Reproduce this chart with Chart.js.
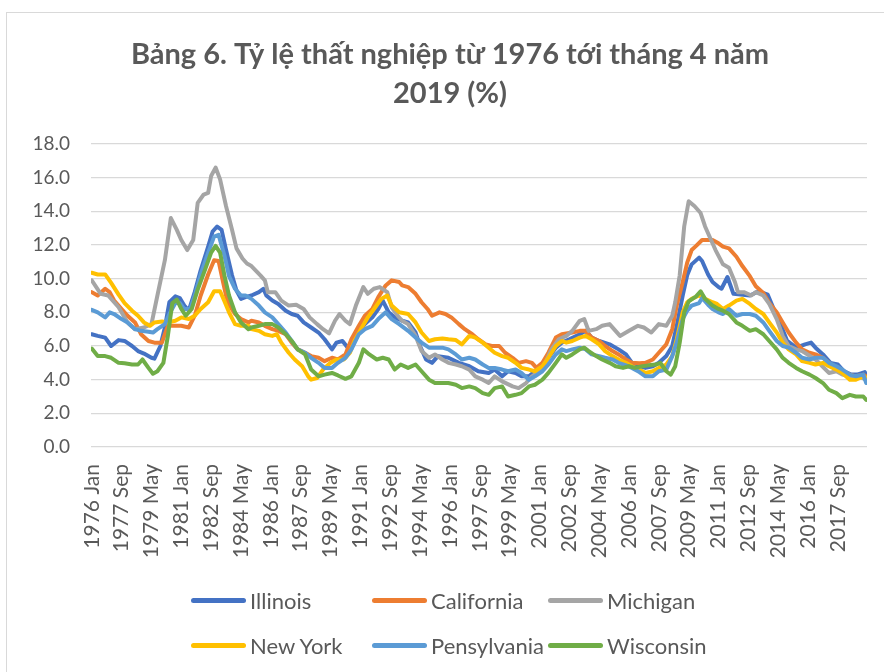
<!DOCTYPE html>
<html lang="vi">
<head>
<meta charset="utf-8">
<title>Bảng 6. Tỷ lệ thất nghiệp</title>
<script src="https://cdn.jsdelivr.net/npm/chart.js@4/dist/chart.umd.min.js"></script>
<style>
  html, body {
    margin: 0;
    padding: 0;
    background: #ffffff;
    overflow: hidden;
  }

  #chartFrame {
    position: absolute;
    left: 6px;
    top: 12px;
    width: 900px;
    height: 700px;
    border: 1px solid #d9d9d9;
  }

  #chartWrap {
    position: absolute;
    left: 0;
    top: 0;
    width: 884px;
    height: 672px;
  }

  #unemploymentLegend {
    position: absolute;
    left: 191px;
    top: 578px;
    display: grid;
    grid-template-columns: 181px 176px 180px;
    grid-auto-rows: 45px;
    font-family: "Lato", "Open Sans", sans-serif;
    font-size: 22px;
    color: #595959;
  }

  .legend-item {
    display: flex;
    align-items: center;
    white-space: nowrap;
  }

  .legend-swatch {
    width: 55px;
    height: 5px;
    border-radius: 3px;
    margin-right: 4px;
  }
</style>
</head>
<body>
<div id="chartFrame"></div>
<div id="chartWrap">
  <canvas id="unemploymentChart" width="884" height="672"></canvas>
</div>
<div id="unemploymentLegend"></div>

<script>
// Month index 0 = 1976 Jan, 519 = 2019 Apr. Values in %.
const tickMonths = [0, 20, 40, 60, 80, 100, 120, 140, 160, 180, 200, 220, 240,
  260, 280, 300, 320, 340, 360, 380, 400, 420, 440, 460, 480, 500];

const tickLabels = ["1976 Jan", "1977 Sep", "1979 May", "1981 Jan", "1982 Sep",
  "1984 May", "1986 Jan", "1987 Sep", "1989 May", "1991 Jan", "1992 Sep",
  "1994 May", "1996 Jan", "1997 Sep", "1999 May", "2001 Jan", "2002 Sep",
  "2004 May", "2006 Jan", "2007 Sep", "2009 May", "2011 Jan", "2012 Sep",
  "2014 May", "2016 Jan", "2017 Sep"];

const stateNames = ["Illinois", "California", "Michigan", "New York", "Pensylvania", "Wisconsin"];

const illinois = [
  [0, 6.7], [4, 6.6], [9, 6.5], [13, 6.0], [18, 6.35], [22, 6.3], [27, 6.0], [31, 5.7],
  [35, 5.55], [40, 5.3], [42, 5.25], [46, 6.0], [49, 7.1], [52, 8.6], [56, 8.95], [59, 8.85],
  [62, 8.4], [65, 8.1], [69, 9.2], [73, 10.5], [78, 11.9], [81, 12.8], [84, 13.1], [87, 12.9],
  [90, 11.7], [94, 10.2], [97, 9.3], [100, 8.8], [103, 8.9], [107, 9.0], [112, 9.2], [115, 9.4],
  [117, 9.0], [121, 8.7], [125, 8.5], [130, 8.1], [134, 7.9], [138, 7.8], [142, 7.4], [147, 7.1],
  [152, 6.8], [156, 6.4], [161, 5.8], [164, 6.2], [168, 6.3], [172, 5.85], [175, 6.2], [179, 6.9],
  [183, 7.3], [188, 7.7], [192, 8.2], [195, 8.7], [199, 8.0], [203, 7.7], [208, 7.5], [212, 7.4],
  [217, 6.8], [220, 6.0], [224, 5.2], [228, 5.0], [232, 5.4], [239, 5.3], [246, 5.0], [253, 4.8],
  [259, 4.5], [266, 4.4], [270, 4.6], [275, 4.2], [279, 4.5], [284, 4.4], [288, 4.2], [293, 4.2],
  [297, 4.5], [302, 4.8], [306, 5.3], [311, 5.9], [315, 6.2], [320, 6.4], [327, 6.7], [331, 6.9],
  [335, 6.5], [340, 6.3], [347, 6.1], [353, 5.8], [358, 5.5], [362, 5.0], [367, 4.8], [371, 4.7],
  [376, 4.8], [380, 5.0], [385, 5.4], [389, 6.0], [392, 7.2], [396, 9.0], [399, 10.2], [402, 10.85],
  [407, 11.25], [409, 11.05], [413, 10.25], [416, 9.8], [420, 9.5], [422, 9.4], [426, 10.1], [430, 9.1],
  [441, 9.0], [447, 9.25], [453, 9.05], [457, 8.2], [462, 7.2], [466, 6.3], [472, 5.9], [478, 6.1],
  [482, 6.2], [485, 5.9], [490, 5.5], [495, 5.0], [500, 4.9], [504, 4.5], [509, 4.3], [513, 4.3],
  [518, 4.45], [519, 4.3]
];

const california = [
  [0, 9.2], [4, 9.0], [9, 9.4], [12, 9.2], [15, 8.7], [20, 8.2], [24, 7.8], [29, 7.4],
  [33, 6.7], [38, 6.3], [42, 6.2], [47, 6.2], [51, 7.2], [56, 7.2], [60, 7.2], [65, 7.1],
  [69, 7.8], [73, 9.0], [78, 10.25], [82, 11.1], [85, 11.05], [88, 9.8], [91, 8.6], [96, 7.9],
  [100, 7.6], [105, 7.4], [107, 7.5], [112, 7.4], [116, 7.2], [121, 7.0], [125, 6.9], [130, 6.7],
  [134, 6.2], [138, 5.8], [143, 5.6], [147, 5.4], [152, 5.3], [156, 5.1], [161, 5.3], [165, 5.2],
  [170, 5.5], [174, 6.4], [179, 7.2], [183, 7.8], [188, 8.2], [192, 8.9], [197, 9.6], [201, 9.9],
  [206, 9.8], [208, 9.6], [212, 9.5], [217, 9.1], [221, 8.6], [225, 8.2], [228, 7.8], [233, 8.0],
  [237, 7.9], [241, 7.7], [246, 7.3], [250, 7.0], [255, 6.7], [259, 6.4], [264, 6.1], [268, 6.0],
  [273, 6.0], [277, 5.6], [282, 5.3], [286, 5.0], [291, 5.1], [295, 5.0], [298, 4.7], [302, 5.0],
  [306, 5.6], [311, 6.5], [315, 6.7], [322, 6.8], [327, 6.9], [331, 6.9], [335, 6.5], [340, 6.3],
  [344, 6.0], [349, 5.7], [353, 5.5], [358, 5.2], [362, 5.0], [367, 4.97], [371, 5.0], [376, 5.2],
  [380, 5.6], [385, 6.1], [389, 7.0], [392, 8.4], [396, 9.8], [399, 10.95], [402, 11.7], [405, 11.95],
  [409, 12.3], [416, 12.3], [420, 12.1], [423, 11.9], [427, 11.8], [432, 11.3], [436, 10.75], [441, 10.15],
  [445, 9.55], [450, 9.15], [454, 8.55], [459, 8.0], [463, 7.4], [467, 6.8], [472, 6.2], [476, 5.8],
  [481, 5.6], [485, 5.5], [490, 5.3], [494, 5.0], [499, 4.7], [503, 4.5], [508, 4.3], [512, 4.2],
  [517, 4.3], [519, 4.2]
];

const michigan = [
  [0, 9.9], [6, 9.1], [11, 9.0], [18, 8.3], [24, 7.4], [29, 7.0], [35, 7.1], [40, 7.3],
  [44, 9.0], [49, 11.1], [53, 13.6], [57, 12.9], [60, 12.3], [64, 11.7], [68, 12.3], [71, 14.5],
  [75, 15.0], [78, 15.1], [80, 16.1], [83, 16.6], [86, 15.9], [90, 14.3], [94, 12.9], [97, 11.8],
  [101, 11.2], [104, 10.9], [107, 10.75], [113, 10.2], [116, 9.9], [118, 9.2], [123, 9.2], [127, 8.7],
  [132, 8.4], [137, 8.45], [142, 8.2], [146, 7.7], [151, 7.3], [155, 7.0], [159, 6.75], [163, 7.5],
  [166, 7.9], [170, 7.5], [173, 7.3], [177, 8.4], [182, 9.5], [185, 9.1], [189, 9.4], [193, 9.5],
  [198, 9.2], [201, 8.3], [205, 7.8], [208, 7.5], [212, 7.3], [217, 6.6], [221, 5.7], [226, 5.3],
  [230, 5.5], [235, 5.2], [239, 5.0], [244, 4.9], [248, 4.8], [253, 4.6], [257, 4.2], [262, 4.0],
  [266, 3.8], [270, 4.2], [275, 3.9], [282, 3.6], [286, 3.5], [291, 3.8], [295, 4.2], [300, 4.5],
  [304, 5.0], [308, 5.8], [313, 6.4], [318, 6.6], [322, 6.9], [327, 7.5], [330, 7.6], [333, 6.9],
  [338, 7.0], [342, 7.2], [347, 7.3], [351, 6.9], [354, 6.6], [360, 6.9], [366, 7.2], [370, 7.1],
  [375, 6.8], [380, 7.3], [385, 7.2], [389, 7.8], [391, 8.6], [394, 10.2], [397, 13.1], [400, 14.6],
  [404, 14.3], [408, 13.9], [411, 13.1], [415, 12.3], [418, 11.7], [423, 10.85], [427, 10.65], [431, 9.8],
  [433, 9.2], [437, 9.2], [442, 9.0], [445, 9.2], [450, 9.0], [454, 8.5], [459, 7.6], [463, 6.6],
  [467, 6.0], [472, 5.8], [476, 5.7], [485, 5.2], [494, 4.4], [499, 4.5], [503, 4.3], [508, 4.2],
  [514, 4.2], [519, 4.0]
];

const newYork = [
  [0, 10.35], [4, 10.25], [9, 10.25], [13, 9.75], [18, 9.05], [22, 8.55], [27, 8.1], [31, 7.8],
  [35, 7.4], [39, 7.2], [42, 7.4], [47, 7.45], [51, 7.4], [56, 7.5], [60, 7.7], [65, 7.6],
  [69, 7.8], [73, 8.2], [78, 8.6], [82, 9.25], [86, 9.25], [89, 8.65], [92, 8.0], [96, 7.3],
  [100, 7.2], [105, 7.2], [107, 7.0], [112, 6.9], [116, 6.7], [121, 6.6], [124, 6.7], [127, 6.2],
  [132, 5.6], [136, 5.2], [141, 4.8], [145, 4.2], [147, 4.0], [151, 4.1], [155, 4.6], [160, 5.0],
  [164, 5.2], [169, 5.2], [173, 5.6], [176, 6.3], [181, 7.1], [185, 7.7], [190, 8.3], [194, 8.8],
  [198, 9.0], [201, 8.4], [206, 8.0], [212, 7.9], [217, 7.4], [221, 6.8], [226, 6.3], [230, 6.4],
  [235, 6.45], [239, 6.4], [244, 6.35], [248, 6.1], [253, 6.6], [257, 6.5], [262, 6.2], [266, 5.9],
  [270, 5.6], [275, 5.4], [279, 5.3], [284, 5.0], [288, 4.7], [293, 4.6], [297, 4.5], [302, 4.8],
  [306, 5.3], [311, 6.0], [315, 6.3], [318, 6.2], [322, 6.3], [327, 6.5], [331, 6.6], [335, 6.4],
  [340, 6.1], [344, 5.7], [349, 5.4], [353, 5.2], [358, 5.0], [362, 4.8], [367, 4.6], [371, 4.4],
  [376, 4.5], [380, 4.7], [385, 4.9], [389, 5.4], [392, 6.4], [396, 8.0], [399, 8.6], [402, 8.8],
  [407, 9.0], [411, 8.8], [416, 8.6], [419, 8.5], [423, 8.2], [427, 8.4], [432, 8.7], [436, 8.8],
  [441, 8.5], [445, 8.2], [450, 7.9], [454, 7.4], [459, 6.8], [463, 6.2], [467, 5.8], [472, 5.5],
  [476, 5.1], [481, 5.0], [485, 4.9], [490, 5.0], [494, 4.8], [499, 4.6], [503, 4.4], [508, 4.0],
  [512, 4.0], [517, 4.2], [519, 4.1]
];

const pensylvania = [
  [0, 8.15], [4, 8.0], [9, 7.7], [12, 8.0], [15, 7.9], [20, 7.6], [24, 7.4], [29, 7.0],
  [33, 6.9], [38, 6.85], [41, 6.8], [44, 7.0], [49, 7.3], [52, 7.9], [56, 8.55], [59, 8.55],
  [62, 8.2], [66, 8.2], [69, 9.0], [73, 10.25], [78, 11.55], [82, 12.5], [85, 12.6], [89, 11.35],
  [92, 10.15], [96, 9.4], [100, 9.0], [103, 9.0], [107, 8.8], [112, 8.4], [116, 8.0], [121, 7.7],
  [125, 7.3], [130, 6.8], [134, 6.3], [138, 5.8], [143, 5.6], [147, 5.3], [152, 5.0], [156, 4.7],
  [161, 4.7], [165, 5.0], [170, 5.3], [174, 5.8], [179, 6.7], [183, 7.0], [188, 7.2], [192, 7.6],
  [197, 8.0], [201, 7.6], [206, 7.3], [212, 6.9], [217, 6.5], [221, 6.2], [226, 5.9], [230, 5.9],
  [235, 5.9], [239, 5.8], [244, 5.5], [248, 5.2], [253, 5.3], [257, 5.2], [262, 4.9], [266, 4.7],
  [270, 4.7], [275, 4.6], [279, 4.5], [284, 4.6], [288, 4.4], [293, 4.0], [297, 4.2], [302, 4.5],
  [306, 4.9], [311, 5.5], [315, 5.8], [318, 5.7], [322, 5.8], [327, 5.9], [331, 5.8], [335, 5.5],
  [340, 5.4], [344, 5.3], [349, 5.2], [353, 5.0], [358, 4.85], [362, 4.7], [367, 4.45], [371, 4.2],
  [376, 4.2], [380, 4.5], [385, 4.6], [389, 5.4], [392, 6.2], [396, 7.6], [399, 8.1], [402, 8.4],
  [407, 8.55], [409, 8.85], [413, 8.45], [416, 8.2], [420, 8.0], [423, 7.9], [427, 8.2], [432, 7.8],
  [436, 7.9], [441, 7.9], [445, 7.8], [450, 7.4], [454, 6.9], [459, 6.3], [463, 6.0], [467, 5.9],
  [472, 5.6], [476, 5.3], [481, 5.2], [485, 5.3], [490, 5.3], [494, 5.0], [499, 4.8], [503, 4.6],
  [508, 4.3], [512, 4.2], [517, 4.3], [519, 3.8]
];

const wisconsin = [
  [0, 5.85], [4, 5.4], [9, 5.4], [13, 5.3], [18, 5.0], [22, 4.97], [27, 4.9], [31, 4.9],
  [34, 5.2], [38, 4.7], [41, 4.35], [44, 4.5], [48, 5.0], [51, 6.6], [54, 8.55], [57, 8.75],
  [60, 8.2], [63, 7.8], [67, 8.2], [71, 9.35], [76, 10.55], [80, 11.55], [83, 11.95], [86, 11.55],
  [89, 10.15], [92, 9.0], [96, 8.0], [100, 7.4], [105, 7.0], [107, 7.1], [112, 7.2], [116, 7.3],
  [121, 7.3], [125, 7.1], [130, 6.7], [134, 6.3], [138, 5.8], [143, 5.5], [147, 4.6], [152, 4.2],
  [156, 4.3], [161, 4.4], [165, 4.25], [170, 4.05], [174, 4.2], [179, 5.0], [182, 5.8], [186, 5.5],
  [191, 5.2], [195, 5.3], [199, 5.2], [203, 4.6], [207, 4.9], [212, 4.7], [217, 4.9], [221, 4.5],
  [226, 4.0], [230, 3.8], [235, 3.8], [239, 3.8], [244, 3.7], [248, 3.5], [253, 3.6], [257, 3.5],
  [262, 3.2], [266, 3.1], [270, 3.5], [275, 3.6], [279, 3.0], [284, 3.1], [288, 3.2], [293, 3.6],
  [297, 3.7], [302, 4.0], [306, 4.4], [311, 5.0], [315, 5.5], [318, 5.3], [322, 5.5], [327, 5.8],
  [330, 5.9], [333, 5.7], [338, 5.4], [342, 5.2], [347, 5.0], [351, 4.8], [356, 4.7], [360, 4.8],
  [364, 4.7], [369, 4.8], [373, 4.85], [378, 4.9], [381, 5.0], [385, 4.5], [388, 4.3], [391, 4.8],
  [394, 6.2], [397, 8.0], [400, 8.65], [405, 8.95], [408, 9.25], [411, 8.8], [416, 8.4], [420, 8.2],
  [423, 8.1], [427, 7.9], [432, 7.4], [436, 7.2], [441, 6.9], [445, 7.0], [450, 6.7], [454, 6.3],
  [459, 5.8], [463, 5.3], [467, 5.0], [472, 4.7], [476, 4.5], [481, 4.3], [485, 4.1], [490, 3.8],
  [494, 3.4], [499, 3.2], [503, 2.9], [508, 3.1], [512, 3.0], [517, 3.0], [519, 2.8]
];

const seriesValues = [illinois, california, michigan, newYork, pensylvania, wisconsin];
const seriesColors = ["#4472C4", "#ED7D31", "#A5A5A5", "#FFC000", "#5B9BD5", "#70AD47"];

const textColor = "#595959";
const gridColor = "#D9D9D9";

function toPoints(pairs) {
  return pairs.map((pair) => {
    return { x: pair[0], y: pair[1] };
  });
}

function buildDatasets() {
  return stateNames.map((name, index) => {
    return {
      label: name,
      data: toPoints(seriesValues[index]),
      borderColor: seriesColors[index],
      backgroundColor: seriesColors[index],
      borderWidth: 4,
      borderCapStyle: "round",
      borderJoinStyle: "round",
      pointRadius: 0,
      tension: 0,
      fill: false,
      // later series are painted on top, like the original
      order: stateNames.length - index
    };
  });
}

function renderLegend(chart) {
  const target = document.getElementById("unemploymentLegend");

  target.innerHTML = chart.data.datasets.map((dataset) => {
    return `
      <div class="legend-item">
        <span class="legend-swatch" style="background:${dataset.borderColor};"></span>
        <span>${dataset.label}</span>
      </div>`;
  }).join("");
}

function renderUnemploymentChart() {
  const canvas = document.getElementById("unemploymentChart");

  const chart = new Chart(canvas, {
    type: "line",
    data: {
      datasets: buildDatasets()
    },
    options: {
      responsive: false,
      animation: false,
      layout: {
        padding: { left: 33, right: 17, top: 0, bottom: 95 }
      },
      plugins: {
        legend: { display: false },
        tooltip: { enabled: false },
        title: {
          display: true,
          text: ["Bảng 6. Tỷ lệ thất nghiệp từ 1976 tới tháng 4 năm", "2019 (%)"],
          color: textColor,
          font: { family: "Lato", size: 29, weight: "bold", lineHeight: 1.345 },
          padding: { top: 35, bottom: 31 }
        }
      },
      scales: {
        x: {
          type: "linear",
          min: -0.5,
          max: 519.5,
          afterBuildTicks: function (scale) {
            scale.ticks = tickMonths.map((value) => ({ value: value }));
          },
          afterFit: function (scale) {
            scale.height = 130;
          },
          ticks: {
            autoSkip: false,
            minRotation: 90,
            maxRotation: 90,
            padding: 17,
            color: textColor,
            font: { family: "Lato", size: 21 },
            callback: function (value) {
              return tickLabels[tickMonths.indexOf(value)];
            }
          },
          grid: { display: false, drawTicks: false },
          border: { display: false }
        },
        y: {
          min: 0,
          max: 18,
          afterFit: function (scale) {
            scale.width = 58;
          },
          ticks: {
            stepSize: 2,
            padding: 21,
            color: textColor,
            font: { family: "Lato", size: 19 },
            callback: function (value) {
              return Number(value).toFixed(1);
            }
          },
          grid: {
            color: gridColor,
            lineWidth: 1.3,
            drawTicks: false
          },
          border: { display: false }
        }
      }
    }
  });

  renderLegend(chart);
}

document.addEventListener("DOMContentLoaded", renderUnemploymentChart);
</script>
</body>
</html>
